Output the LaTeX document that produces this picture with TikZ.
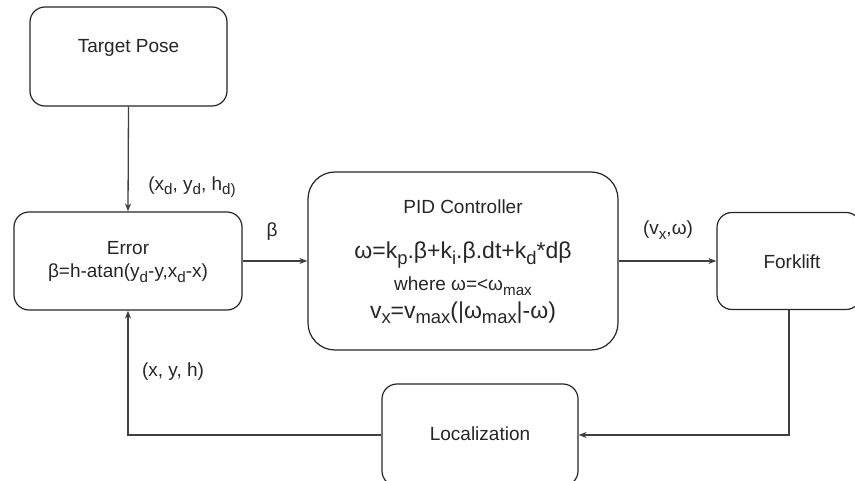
\documentclass[tikz,border=0pt]{standalone}
\usepackage{fontspec}
\setmainfont{Liberation Sans}
\usetikzlibrary{arrows.meta}

% lowered, smaller text for index letters
\newcommand{\idx}[1]{\raisebox{-0.45ex}{\scalebox{0.8}{#1}}}

\begin{document}
\begin{tikzpicture}[x=1pt, y=-1pt]
    % Styles for the blocks, connectors and labels
    \tikzset{
        block/.style={draw=black!85, line width=1.2pt, rounded corners=15pt, inner sep=0pt, fill=white},
        link/.style={draw=black!75, line width=1.3pt, -{Stealth[length=8pt, width=6pt, inset=2.5pt]}},
        lbl/.style={text=black!85, font=\fontsize{19}{23}\selectfont, inner sep=1pt, align=center},
        big/.style={text=black!85, font=\fontsize{23}{27}\selectfont, inner sep=1pt}
    }

    \useasboundingbox (0,0) rectangle (855,481);

    % Blocks
    \node[block, minimum width=197pt, minimum height=99pt] (target) at (128.5,56.5) {};
    \node[block, minimum width=228pt, minimum height=98pt] (error) at (128,261) {};
    \node[block, rounded corners=27pt, minimum width=310pt, minimum height=178pt] (pid) at (463,261) {};
    \node[block, minimum width=144pt, minimum height=97pt] (fork) at (789,261) {};
    \node[block, minimum width=196pt, minimum height=102pt] (loc) at (480,435) {};

    % Block texts
    \node[lbl] (targettxt) at (128.5,48) {Target Pose};
    \node[lbl] (errortxt) at (128,262) {Error\\β=h-atan(y\idx{d}-y,x\idx{d}-x)};
    \node[lbl] (pidtxt) at (463,207) {PID Controller};
    \node[big] (pidlaw) at (463,255) {ω=k\idx{p}.β+k\idx{i}.β.dt+k\idx{d}*dβ};
    \node[lbl] (pidsat) at (463,286) {where ω=<ω\idx{max}};
    \node[big] (pidvel) at (463,313) {v\idx{x}=v\idx{max}(|ω\idx{max}|-ω)};
    \node[lbl] (forktxt) at (792,262) {Forklift};
    \node[lbl] (loctxt) at (480,434) {Localization};

    % Connectors
    \draw[link] (target.south) -- (error.north);
    \draw[link] (error.east) -- (pid.west);
    \draw[link] (pid.east) -- (fork.west);
    \draw[link] (fork.south) |- (loc.east);
    \draw[link] (loc.west) -| (error.south);

    % Signal labels
    \node[lbl] (poselbl) at (192,187) {(x\idx{d}, y\idx{d}, h\idx{d)}};
    \node[lbl] (betalbl) at (272,232) {β};
    \node[lbl] (cmdlbl) at (668,230) {(v\idx{x},ω)};
    \node[lbl] (statelbl) at (173,372) {(x, y, h)};
\end{tikzpicture}
\end{document}
